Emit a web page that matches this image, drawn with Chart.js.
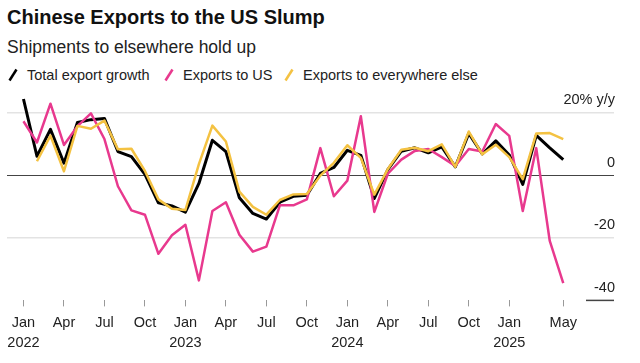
<!DOCTYPE html>
<html>
<head>
<meta charset="utf-8">
<script src="https://cdn.jsdelivr.net/npm/chart.js@4"></script>
<style>
    body { margin: 0; background: #fff; }
    #wrap { position: relative; width: 640px; height: 363px; font-family: "Liberation Sans", Arial, sans-serif; color: #111; }
    #title { position: absolute; left: 7px; top: 5px; font-size: 20px; font-weight: bold; line-height: 24px; }
    #subtitle { position: absolute; left: 7px; top: 36px; font-size: 17.5px; line-height: 22px; color: #222; }
    #legend { position: absolute; left: 7px; top: 66px; font-size: 14.5px; line-height: 18px; color: #222; }
    .item { position: absolute; top: 0; white-space: nowrap; }
    .slash { position: absolute; left: 1px; top: 2px; }
    .item span.txt { position: absolute; left: 20px; top: 0; }
    canvas { position: absolute; left: 0; top: 0; }
</style>
</head>
<body>
<div id="wrap">
    <div id="title">Chinese Exports to the US Slump</div>
    <div id="subtitle">Shipments to elsewhere hold up</div>
    <div id="legend"></div>
    <canvas id="chart" width="640" height="363"></canvas>
</div>
<script>
// Jan 2022 .. May 2025, monthly
const months = [
    "2022-01", "2022-02", "2022-03", "2022-04", "2022-05", "2022-06", "2022-07", "2022-08", "2022-09", "2022-10", "2022-11", "2022-12",
    "2023-01", "2023-02", "2023-03", "2023-04", "2023-05", "2023-06", "2023-07", "2023-08", "2023-09", "2023-10", "2023-11", "2023-12",
    "2024-01", "2024-02", "2024-03", "2024-04", "2024-05", "2024-06", "2024-07", "2024-08", "2024-09", "2024-10", "2024-11", "2024-12",
    "2025-01", "2025-02", "2025-03", "2025-04", "2025-05"
];
const totalGrowth = [
    24.4, 6.1, 14.7, 3.9, 16.9, 17.8, 18.2, 7.6, 6.0, 0.3, -8.8, -9.8,
    -11.8, -2.6, 11.2, 7.6, -7.2, -12.2, -14.0, -8.6, -6.7, -6.4, 0.6, 2.5,
    8.0, 6.4, -7.4, 1.8, 7.7, 8.8, 7.2, 9.1, 2.7, 13.4, 6.8, 11.0,
    6.5, -2.9, 12.8, 8.8, 5.0
];
const exportsUS = [
    17.3, 10.5, 22.9, 9.7, 15.7, 19.8, 11.6, -3.5, -11.2, -12.6, -25.1, -19.2,
    -15.8, -33.6, -11.4, -8.6, -19.0, -24.4, -22.8, -9.6, -9.6, -7.7, 8.7, -6.7,
    -1.7, 18.9, -11.7, 0.5, 5.0, 7.8, 8.4, 5.8, 3.0, 8.4, 7.6, 16.4,
    12.6, -11.4, 8.7, -21.0, -34.5
];
const exportsElsewhere = [
    null, 4.5, 12.7, 1.3, 15.8, 14.9, 17.5, 8.3, 8.5, 1.4, -7.7, -10.7,
    -11.1, 3.6, 15.9, 10.8, -5.2, -10.1, -12.6, -7.9, -6.1, -6.0, -0.1, 4.0,
    9.6, 5.6, -6.2, 2.0, 8.2, 8.8, 7.7, 9.9, 2.7, 14.0, 6.7, 9.8,
    5.8, -1.2, 13.4, 13.5, 11.6
];
const xTickIdx = [0, 3, 6, 9, 12, 15, 18, 21, 24, 27, 30, 33, 36, 40];
const xTickLabels = [
    ["Jan", "2022"], "Apr", "Jul", "Oct", ["Jan", "2023"], "Apr", "Jul", "Oct",
    ["Jan", "2024"], "Apr", "Jul", "Oct", ["Jan", "2025"], "May"
];
const yTicks = [-40, -20, 0, 20];

const SERIES = [
    {label: "Total export growth", data: totalGrowth, color: "#000000", width: 3},
    {label: "Exports to US", data: exportsUS, color: "#e8398e", width: 2.5},
    {label: "Exports to everywhere else", data: exportsElsewhere, color: "#f4c242", width: 2.5}
];
const LEGEND_LEFT = [0, 156, 276];
const FONT = "'Liberation Sans', Arial, sans-serif";

// html legend with "/" markers
const legendEl = document.getElementById("legend");
SERIES.forEach((s, i) => {
    const item = document.createElement("div");
    item.className = "item";
    item.style.left = LEGEND_LEFT[i] + "px";
    item.innerHTML = `<svg class="slash" width="10" height="14"><line x1="1.5" y1="12.5" x2="8.5" y2="1.5" stroke="${s.color}" stroke-width="2.5"/></svg><span class="txt">${s.label}</span>`;
    legendEl.appendChild(item);
});

// short rule under the -40 label
const bottomRule = {
    id: "bottomRule",
    afterDraw(chart) {
        const {ctx, chartArea, scales} = chart;
        const y = scales.y.getPixelForValue(-40);
        ctx.save();
        ctx.strokeStyle = "#444";
        ctx.lineWidth = 1.5;
        ctx.beginPath();
        ctx.moveTo(chartArea.right - 28, y);
        ctx.lineTo(chartArea.right, y);
        ctx.stroke();
        ctx.restore();
    }
};

const ctx = document.getElementById("chart").getContext("2d");
new Chart(ctx, {
    type: "line",
    data: {
        // drawn bottom to top: yellow, pink, black
        datasets: SERIES.slice().reverse().map(s => ({
            label: s.label,
            data: s.data.map((v, i) => ({x: i, y: v})),
            borderColor: s.color,
            backgroundColor: "transparent",
            borderWidth: s.width,
            pointRadius: 0,
            tension: 0,
            borderJoinStyle: "round",
            spanGaps: false
        }))
    },
    options: {
        responsive: false,
        animation: false,
        layout: {padding: {top: 94, left: 7, right: 24, bottom: 4}},
        plugins: {legend: {display: false}, tooltip: {enabled: false}},
        scales: {
            x: {
                type: "linear",
                min: -1.22,
                max: 43.76,
                afterBuildTicks: (scale) => {
                    scale.ticks = xTickIdx.map(v => ({value: v}));
                },
                grid: {
                    display: true,
                    drawOnChartArea: false,
                    color: "rgba(0,0,0,0)",
                    tickColor: "#999",
                    tickLength: 6,
                    tickWidth: 1
                },
                border: {display: false},
                ticks: {
                    autoSkip: false,
                    maxRotation: 0,
                    padding: 6,
                    color: "#222",
                    font: {family: FONT, size: 14.5, lineHeight: 1.4},
                    callback: (value) => xTickLabels[xTickIdx.indexOf(value)]
                }
            },
            y: {
                position: "right",
                min: -40,
                max: 26,
                afterBuildTicks: (scale) => {
                    scale.ticks = yTicks.map(v => ({value: v}));
                },
                grid: {
                    drawTicks: false,
                    color: (c) => c.tick.value === 0 ? "#444" : (c.tick.value === -40 ? "rgba(0,0,0,0)" : "#e3e3e3"),
                    lineWidth: (c) => c.tick.value === 0 ? 1 : 1.5
                },
                border: {display: false},
                ticks: {
                    mirror: true,
                    padding: 1,
                    labelOffset: -12.5,
                    color: "#222",
                    font: {family: FONT, size: 14.5},
                    callback: (value) => value === 20 ? "20% y/y" : String(value)
                }
            }
        }
    },
    plugins: [bottomRule]
});
</script>
</body>
</html>
